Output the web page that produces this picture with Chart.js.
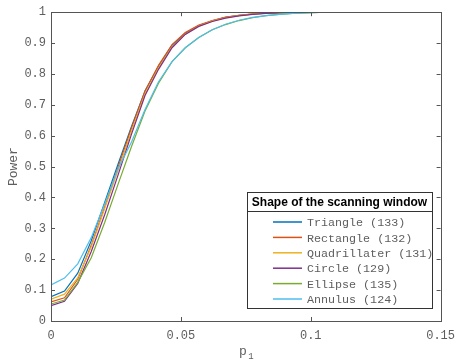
<!DOCTYPE html>
<html>
<head>
<meta charset="utf-8">
<script src="https://cdn.jsdelivr.net/npm/chart.js@4"></script>
<style>
  body { margin: 0; background: #fff; }
</style>
</head>
<body>
<canvas id="powerChart" width="463" height="364"></canvas>
<script>
// p1 grid (30 points from 0 to 0.15)
const p1 = [0, 0.0052, 0.0103, 0.0155, 0.0207, 0.0259, 0.0310, 0.0362, 0.0414, 0.0466,
  0.0517, 0.0569, 0.0621, 0.0672, 0.0724, 0.0776, 0.0828, 0.0879, 0.0931, 0.0983,
  0.1034, 0.1086, 0.1138, 0.1190, 0.1241, 0.1293, 0.1345, 0.1397, 0.1448, 0.15];

const triangle = [0.079, 0.097, 0.155, 0.26, 0.385, 0.51, 0.63, 0.745, 0.825, 0.893,
  0.932, 0.956, 0.972, 0.983, 0.99, 0.994, 0.997, 0.998, 0.999, 1,
  1, 1, 1, 1, 1, 1, 1, 1, 1, 1];
const rectangle = [0.062, 0.075, 0.135, 0.245, 0.37, 0.5, 0.625, 0.745, 0.828, 0.895,
  0.934, 0.958, 0.973, 0.984, 0.99, 0.995, 0.997, 0.999, 1, 1,
  1, 1, 1, 1, 1, 1, 1, 1, 1, 1];
const quadrillater = [0.071, 0.087, 0.14, 0.24, 0.365, 0.49, 0.615, 0.735, 0.82, 0.888,
  0.929, 0.955, 0.971, 0.982, 0.989, 0.994, 0.997, 0.998, 0.999, 1,
  1, 1, 1, 1, 1, 1, 1, 1, 1, 1];
const circle = [0.05, 0.064, 0.122, 0.225, 0.345, 0.475, 0.605, 0.73, 0.815, 0.885,
  0.928, 0.954, 0.97, 0.981, 0.988, 0.993, 0.996, 0.998, 0.999, 1,
  1, 1, 1, 1, 1, 1, 1, 1, 1, 1];
const ellipse = [0.055, 0.068, 0.125, 0.205, 0.32, 0.445, 0.565, 0.68, 0.77, 0.84,
  0.885, 0.918, 0.943, 0.96, 0.973, 0.982, 0.989, 0.993, 0.996, 0.998,
  0.999, 1, 1, 1, 1, 1, 1, 1, 1, 1];
const annulus = [0.117, 0.139, 0.185, 0.27, 0.38, 0.495, 0.58, 0.685, 0.775, 0.84,
  0.885, 0.918, 0.943, 0.961, 0.974, 0.983, 0.989, 0.993, 0.996, 0.998,
  0.999, 1, 1, 1, 1, 1, 1, 1, 1, 1];

const seriesNames = ["Triangle (133)", "Rectangle (132)", "Quadrillater (131)",
  "Circle (129)", "Ellipse (135)", "Annulus (124)"];
const seriesValues = [triangle, rectangle, quadrillater, circle, ellipse, annulus];
const seriesColors = ["#0072BD", "#D95319", "#EDB120", "#7E2F8E", "#77AC30", "#4DBEEE"];

const xTicks = [0, 0.05, 0.1, 0.15];
const xTickLabels = ["0", "0.05", "0.1", "0.15"];
const yTicks = [0, 0.1, 0.2, 0.3, 0.4, 0.5, 0.6, 0.7, 0.8, 0.9, 1];
const yTickLabels = ["0", "0.1", "0.2", "0.3", "0.4", "0.5", "0.6", "0.7", "0.8", "0.9", "1"];

const legendTitle = "Shape of the scanning window";
const axisColor = "#555555";
const textColor = "#5e5e5e";
const monoFont = "'Liberation Mono', 'DejaVu Sans Mono', monospace";

// MATLAB-like box, inward ticks, axis titles and boxed legend
const matlabAxes = {
  id: "matlabAxes",
  afterDraw(chart) {
    const { ctx, chartArea: a, scales: { x, y } } = chart;
    ctx.save();
    ctx.strokeStyle = axisColor;
    ctx.lineWidth = 1;
    ctx.strokeRect(Math.round(a.left) + 0.5, Math.round(a.top) + 0.5,
      Math.round(a.right - a.left), Math.round(a.bottom - a.top));

    ctx.beginPath();
    xTicks.forEach(v => {
      const px = Math.round(x.getPixelForValue(v)) + 0.5;
      ctx.moveTo(px, a.bottom); ctx.lineTo(px, a.bottom - 4);
      ctx.moveTo(px, a.top); ctx.lineTo(px, a.top + 4);
    });
    yTicks.forEach(v => {
      const py = Math.round(y.getPixelForValue(v)) + 0.5;
      ctx.moveTo(a.left, py); ctx.lineTo(a.left + 4, py);
      ctx.moveTo(a.right, py); ctx.lineTo(a.right - 4, py);
    });
    ctx.stroke();

    // axis titles
    ctx.fillStyle = textColor;
    ctx.font = "13px " + monoFont;
    ctx.textBaseline = "middle";
    ctx.textAlign = "center";
    ctx.fillText("p", 243, 352);
    ctx.font = "9px " + monoFont;
    ctx.fillText("1", 251, 357);

    ctx.save();
    ctx.translate(14, (a.top + a.bottom) / 2);
    ctx.rotate(-Math.PI / 2);
    ctx.font = "13px " + monoFont;
    ctx.fillText("Power", 0, 0);
    ctx.restore();

    // legend box
    const lx = 247, ly = 192, lw = 185, lh = 116;
    ctx.fillStyle = "#fff";
    ctx.fillRect(lx, ly, lw, lh);
    ctx.strokeStyle = "#333";
    ctx.strokeRect(lx + 0.5, ly + 0.5, lw, lh);
    ctx.beginPath();
    ctx.moveTo(lx, ly + 19.5); ctx.lineTo(lx + lw, ly + 19.5);
    ctx.stroke();

    ctx.fillStyle = "#000";
    ctx.font = "bold 12px 'Liberation Sans', Arial, sans-serif";
    ctx.fillText(legendTitle, lx + lw / 2, ly + 11);

    ctx.textAlign = "left";
    ctx.font = "11.7px " + monoFont;
    chart.data.datasets.forEach((ds, i) => {
      const ry = 222 + i * 15.4;
      ctx.strokeStyle = ds.borderColor;
      ctx.lineWidth = 1.5;
      ctx.beginPath();
      ctx.moveTo(273, ry); ctx.lineTo(302, ry);
      ctx.stroke();
      ctx.fillStyle = textColor;
      ctx.fillText(ds.label, 307, ry + 1);
    });
    ctx.restore();
  }
};

new Chart(document.getElementById("powerChart"), {
  type: "line",
  data: {
    datasets: seriesNames.map((name, i) => ({
      label: name,
      data: p1.map((p, k) => ({ x: p, y: seriesValues[i][k] })),
      borderColor: seriesColors[i],
      backgroundColor: seriesColors[i],
      borderWidth: 1.2,
      pointRadius: 0,
      tension: 0,
      fill: false,
      order: seriesNames.length - i // later series drawn on top, like MATLAB
    }))
  },
  options: {
    responsive: false,
    animation: false,
    layout: { padding: { top: 12, right: 18, left: 0, bottom: 0 } },
    plugins: {
      legend: { display: false },
      tooltip: { enabled: false }
    },
    scales: {
      x: {
        type: "linear",
        min: 0,
        max: 0.15,
        afterBuildTicks: s => { s.ticks = xTicks.map(v => ({ value: v })); },
        afterFit: s => { s.height = 43; },
        grid: { display: false, drawTicks: false },
        border: { display: false },
        ticks: {
          padding: 8,
          color: textColor,
          font: { family: monoFont, size: 12 },
          maxRotation: 0,
          callback: (v, idx) => xTickLabels[idx]
        }
      },
      y: {
        type: "linear",
        min: 0,
        max: 1,
        afterBuildTicks: s => { s.ticks = yTicks.map(v => ({ value: v })); },
        afterFit: s => { s.width = 51; },
        grid: { display: false, drawTicks: false },
        border: { display: false },
        ticks: {
          padding: 5,
          color: textColor,
          font: { family: monoFont, size: 12 },
          callback: (v, idx) => yTickLabels[idx]
        }
      }
    }
  },
  plugins: [matlabAxes]
});
</script>
</body>
</html>
